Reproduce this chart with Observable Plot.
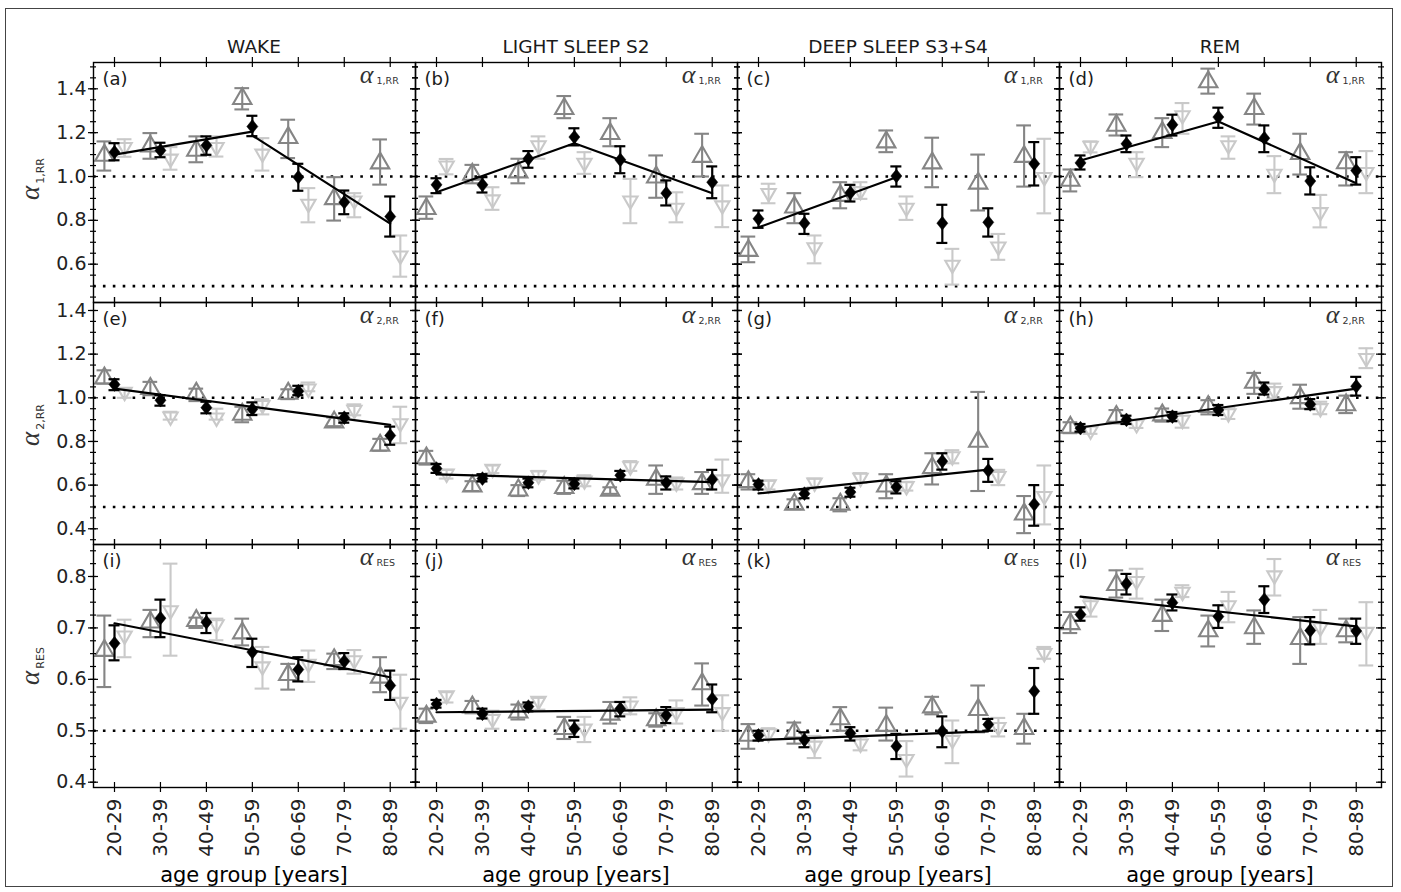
<!DOCTYPE html>
<html><head><meta charset="utf-8">
<script src="https://cdn.jsdelivr.net/npm/d3@7"></script>
<script src="https://cdn.jsdelivr.net/npm/@observablehq/plot@0.6"></script>
<style>
body{margin:0;background:#fff;}
#fig{position:relative;width:1401px;height:892px;font-family:"DejaVu Sans","Liberation Sans",Arial,sans-serif;color:#1a1a1a;overflow:hidden;}
.abs{position:absolute;}
.coltitle{font-size:18.5px;text-align:center;width:322px;line-height:22px;color:#1a1a1a;}
.xtitle{font-size:21px;text-align:center;width:322px;line-height:26px;color:#000;}
.ylab{white-space:nowrap;transform:translate(-50%,-50%) rotate(-90deg);color:#333;}
.ylab .a{font-family:"Liberation Serif","DejaVu Serif",serif;font-style:italic;font-size:27px;}
.ylab .s{font-size:11px;position:relative;top:5px;margin-left:2px;}
#outer{position:absolute;left:5px;top:8px;width:1388px;height:879px;border:1.5px solid #444;box-sizing:border-box;}
</style></head><body><div id="fig"><div id="outer"></div></div>
<script>
// ---------- categories / labels ----------
const ageGroups = ["20-29","30-39","40-49","50-59","60-69","70-79","80-89"];
const stages = ["WAKE","LIGHT SLEEP S2","DEEP SLEEP S3+S4","REM"];
const panelLetters = ["(a)","(b)","(c)","(d)","(e)","(f)","(g)","(h)","(i)","(j)","(k)","(l)"];
const rowSubs = ["1,RR","2,RR","RES"];
const yTicksRow1 = [0.6,0.8,1.0,1.2,1.4];
const yTicksRow2 = [0.4,0.6,0.8,1.0,1.2,1.4];
const yTicksRow3 = [0.4,0.5,0.6,0.7,0.8];
const refLinesRow12 = [1.0,0.5];
const refLinesRow3 = [0.5];

// ---------- values: [value, lower, upper] per age group ----------
// row 1: alpha_1,RR
const a_dia=[[1.111,1.074,1.152],[1.119,1.088,1.154],[1.142,1.099,1.183],[1.228,1.184,1.277],[0.997,0.935,1.058],[0.883,0.828,0.936],[0.817,0.726,0.909]];
const a_up =[[1.096,1.027,1.160],[1.138,1.081,1.198],[1.119,1.065,1.183],[1.355,1.306,1.403],[1.177,1.084,1.259],[0.898,0.799,0.997],[1.061,0.963,1.169]];
const a_dn =[[1.134,1.090,1.170],[1.081,1.031,1.134],[1.134,1.091,1.183],[1.104,1.027,1.175],[0.875,0.791,0.947],[0.890,0.814,0.924],[0.639,0.543,0.731]];
const b_dia=[[0.962,0.924,0.992],[0.962,0.927,0.997],[1.081,1.040,1.116],[1.180,1.142,1.220],[1.076,1.015,1.138],[0.924,0.868,0.982],[0.974,0.901,1.046]];
const b_up =[[0.853,0.807,0.909],[1.009,0.969,1.053],[1.020,0.969,1.081],[1.309,1.266,1.367],[1.195,1.138,1.266],[0.997,0.903,1.096],[1.091,1.000,1.195]];
const b_dn =[[1.050,1.010,1.080],[0.895,0.848,0.951],[1.142,1.081,1.183],[1.062,1.012,1.111],[0.890,0.787,0.989],[0.857,0.791,0.928],[0.868,0.769,0.959]];
const c_dia=[[0.807,0.766,0.845],[0.787,0.738,0.830],[0.926,0.886,0.962],[1.002,0.954,1.046],[0.787,0.697,0.871],[0.791,0.726,0.855],[1.058,0.959,1.157]];
const c_up =[[0.662,0.609,0.726],[0.860,0.787,0.924],[0.913,0.855,0.974],[1.157,1.111,1.210],[1.061,0.951,1.177],[0.969,0.845,1.100],[1.091,0.954,1.233]];
const c_dn =[[0.924,0.878,0.967],[0.677,0.604,0.731],[0.933,0.898,0.974],[0.857,0.802,0.909],[0.597,0.507,0.670],[0.680,0.620,0.738],[0.997,0.832,1.172]];
const d_dia=[[1.062,1.032,1.096],[1.149,1.111,1.187],[1.236,1.187,1.282],[1.271,1.222,1.314],[1.175,1.111,1.233],[0.979,0.918,1.042],[1.027,0.963,1.088]];
const d_up =[[0.982,0.932,1.032],[1.233,1.187,1.283],[1.200,1.134,1.266],[1.431,1.378,1.492],[1.309,1.237,1.378],[1.104,1.009,1.195],[1.062,0.959,1.111]];
const d_dn =[[1.140,1.110,1.160],[1.062,0.997,1.111],[1.279,1.195,1.335],[1.142,1.081,1.183],[1.012,0.924,1.093],[0.837,0.768,0.916],[1.020,0.924,1.116]];
// row 2: alpha_2,RR
const e_dia=[[1.061,1.035,1.085],[0.989,0.964,1.012],[0.955,0.929,0.982],[0.948,0.921,0.979],[1.030,1.012,1.055],[0.909,0.886,0.929],[0.827,0.785,0.868]];
const e_up =[[1.090,1.065,1.126],[1.042,1.012,1.073],[1.020,0.985,1.042],[0.924,0.888,0.959],[1.020,0.994,1.039],[0.888,0.870,0.910],[0.782,0.758,0.812]];
const e_dn =[[1.027,1.000,1.040],[0.914,0.900,0.936],[0.909,0.900,0.950],[0.967,0.924,0.994],[1.042,1.030,1.070],[0.944,0.920,0.970],[0.883,0.792,0.959]];
const f_dia=[[0.676,0.656,0.697],[0.630,0.617,0.650],[0.611,0.590,0.630],[0.606,0.585,0.625],[0.645,0.625,0.665],[0.611,0.580,0.640],[0.626,0.580,0.670]];
const f_up =[[0.724,0.694,0.757],[0.595,0.573,0.618],[0.577,0.550,0.600],[0.588,0.560,0.620],[0.576,0.560,0.590],[0.626,0.560,0.690],[0.606,0.560,0.660]];
const f_dn =[[0.652,0.630,0.670],[0.674,0.655,0.690],[0.644,0.625,0.665],[0.621,0.595,0.645],[0.686,0.665,0.710],[0.611,0.580,0.635],[0.626,0.565,0.717]];
const g_dia=[[0.603,0.580,0.620],[0.561,0.540,0.580],[0.568,0.547,0.588],[0.591,0.562,0.618],[0.709,0.671,0.746],[0.667,0.615,0.720],[0.512,0.414,0.600]];
const g_up =[[0.615,0.580,0.650],[0.512,0.490,0.535],[0.512,0.480,0.540],[0.595,0.540,0.650],[0.679,0.603,0.746],[0.800,0.573,1.027],[0.467,0.380,0.550]];
const g_dn =[[0.603,0.580,0.620],[0.611,0.590,0.630],[0.633,0.610,0.655],[0.595,0.575,0.615],[0.732,0.700,0.760],[0.641,0.600,0.670],[0.550,0.420,0.690]];
const h_dia=[[0.861,0.845,0.880],[0.899,0.880,0.918],[0.914,0.893,0.935],[0.944,0.921,0.967],[1.039,1.015,1.070],[0.970,0.948,0.994],[1.053,1.010,1.096]];
const h_up =[[0.864,0.838,0.888],[0.914,0.883,0.944],[0.921,0.891,0.951],[0.959,0.924,0.989],[1.070,1.018,1.114],[1.000,0.950,1.060],[0.967,0.930,1.010]];
const h_dn =[[0.850,0.835,0.870],[0.879,0.862,0.900],[0.899,0.863,0.933],[0.929,0.903,0.955],[1.030,0.997,1.065],[0.952,0.925,0.982],[1.182,1.136,1.227]];
// row 3: alpha_RES
const i_dia=[[0.670,0.637,0.705],[0.719,0.682,0.755],[0.711,0.690,0.729],[0.653,0.624,0.679],[0.619,0.596,0.643],[0.635,0.620,0.651],[0.588,0.560,0.617]];
const i_up =[[0.656,0.585,0.724],[0.711,0.682,0.735],[0.714,0.700,0.720],[0.690,0.666,0.718],[0.609,0.580,0.630],[0.638,0.620,0.650],[0.604,0.575,0.643]];
const i_dn =[[0.685,0.643,0.716],[0.734,0.646,0.825],[0.707,0.676,0.718],[0.625,0.582,0.663],[0.630,0.595,0.656],[0.637,0.611,0.657],[0.556,0.504,0.609]];
const j_dia=[[0.552,0.545,0.560],[0.533,0.524,0.543],[0.547,0.538,0.555],[0.504,0.488,0.520],[0.543,0.528,0.556],[0.530,0.515,0.546],[0.562,0.536,0.590]];
const j_up =[[0.528,0.515,0.543],[0.546,0.534,0.558],[0.536,0.522,0.551],[0.504,0.484,0.527],[0.532,0.514,0.556],[0.521,0.508,0.534],[0.591,0.549,0.631]];
const j_dn =[[0.569,0.555,0.575],[0.523,0.504,0.539],[0.558,0.541,0.564],[0.504,0.478,0.527],[0.549,0.532,0.565],[0.536,0.514,0.559],[0.536,0.500,0.569]];
const k_dia=[[0.491,0.481,0.500],[0.482,0.468,0.497],[0.495,0.481,0.507],[0.470,0.445,0.494],[0.499,0.468,0.528],[0.512,0.500,0.523],[0.577,0.533,0.622]];
const k_up =[[0.491,0.465,0.513],[0.497,0.475,0.516],[0.523,0.500,0.546],[0.510,0.481,0.545],[0.546,0.532,0.566],[0.541,0.497,0.588],[0.504,0.475,0.533]];
const k_dn =[[0.495,0.484,0.505],[0.471,0.447,0.490],[0.475,0.462,0.488],[0.445,0.411,0.480],[0.482,0.437,0.520],[0.507,0.489,0.525],[0.651,0.640,0.663]];
const l_dia=[[0.726,0.714,0.740],[0.786,0.765,0.805],[0.749,0.734,0.765],[0.722,0.700,0.744],[0.755,0.729,0.781],[0.695,0.668,0.721],[0.694,0.669,0.718]];
const l_up =[[0.708,0.690,0.731],[0.784,0.759,0.812],[0.724,0.694,0.755],[0.694,0.664,0.724],[0.700,0.669,0.734],[0.679,0.630,0.721],[0.694,0.672,0.718]];
const l_dn =[[0.744,0.722,0.757],[0.791,0.757,0.815],[0.770,0.760,0.783],[0.744,0.711,0.770],[0.802,0.763,0.834],[0.701,0.669,0.735],[0.692,0.627,0.750]];

// ---------- fit lines: segments of [age-group index, value] ----------
const a_fit=[[[0,1.100],[3,1.205]],[[3,1.187],[6,0.785]]];
const b_fit=[[[0,0.928],[3,1.152]],[[3,1.152],[6,0.924]]];
const c_fit=[[[0,0.768],[3,0.997]]];
const d_fit=[[[0,1.073],[3,1.251]],[[3,1.251],[6,0.969]]];
const e_fit=[[[0,1.042],[6,0.876]]];
const f_fit=[[[0,0.649],[6,0.614]]];
const g_fit=[[[0,0.562],[5,0.671]]];
const h_fit=[[[0,0.864],[6,1.042]]];
const i_fit=[[[0,0.709],[6,0.604]]];
const j_fit=[[[0,0.536],[6,0.541]]];
const k_fit=[[[0,0.482],[5,0.499]]];
const l_fit=[[[0,0.761],[6,0.703]]];

const diaSeries=[a_dia,b_dia,c_dia,d_dia,e_dia,f_dia,g_dia,h_dia,i_dia,j_dia,k_dia,l_dia];
const upSeries=[a_up,b_up,c_up,d_up,e_up,f_up,g_up,h_up,i_up,j_up,k_up,l_up];
const dnSeries=[a_dn,b_dn,c_dn,d_dn,e_dn,f_dn,g_dn,h_dn,i_dn,j_dn,k_dn,l_dn];
const fitSeries=[a_fit,b_fit,c_fit,d_fit,e_fit,f_fit,g_fit,h_fit,i_fit,j_fit,k_fit,l_fit];

// ---------- layout / style ----------
const colLeft=[93,415,737,1059], colW=322;
const rowTop=[62,302,544], rowH=[240,242,243];
const yDomains=[[0.4253,1.52],[0.328,1.4366],[0.3897,0.8622]];
const yMajor=[yTicksRow1,yTicksRow2,yTicksRow3];
const yMinorStep=[0.05,0.05,0.025];
const refLines=[refLinesRow12,refLinesRow12,refLinesRow3];
const xDomain=[-0.457,6.55];
const cUp="#858585", cDn="#c9c9c9", cDia="#000";
const sansFont="DejaVu Sans, Liberation Sans, Arial, sans-serif";

const diamondSym={draw(ctx,size){const h=Math.sqrt(size/Math.PI)*1.5,w=h*0.8;ctx.moveTo(0,-h);ctx.lineTo(w,0);ctx.lineTo(0,h);ctx.lineTo(-w,0);ctx.closePath();}};
const downTri={draw(ctx,size){const s=Math.sqrt(size)*0.6824,t=s/2,u=s*Math.sqrt(3)/2;ctx.moveTo(0,s);ctx.lineTo(u,-t);ctx.lineTo(-u,-t);ctx.closePath();}};

const fig=document.getElementById("fig");

function errMarks(rows, color, capHalf, sw){
  return [
    Plot.ruleX(rows,{x:"x",y1:"lo",y2:"hi",stroke:color,strokeWidth:sw}),
    Plot.ruleY(rows,{y:"lo",x1:d=>d.x-capHalf,x2:d=>d.x+capHalf,stroke:color,strokeWidth:sw}),
    Plot.ruleY(rows,{y:"hi",x1:d=>d.x-capHalf,x2:d=>d.x+capHalf,stroke:color,strokeWidth:sw})
  ];
}

for(let r=0;r<3;r++){
  for(let c=0;c<4;c++){
    const p=r*4+c;
    const mL=c===0?75:12, mR=12, mT=12, mB=r===2?80:12;
    const W=colW, H=rowH[r];
    const toRows=(arr,off)=>arr.map(([v,lo,hi],i)=>({x:i+off,v,lo,hi}));
    const up=toRows(upSeries[p],-0.22), dn=toRows(dnSeries[p],0.22), dia=toRows(diaSeries[p],0);
    const [y0,y1]=yDomains[r];
    const st=yMinorStep[r];
    const minor=d3.range(Math.ceil(y0/st-1e-9),Math.floor(y1/st+1e-9)+1).map(k=>+(k*st).toFixed(4));
    const major=d3.range(Math.ceil(y0/0.1-1e-9),Math.floor(y1/0.1+1e-9)+1).map(k=>+(k*0.1).toFixed(3)).filter(v=>r===2||Math.round(v*10)%2===0);
    const xt=d3.range(ageGroups.length);
    const marks=[
      Plot.ruleY(refLines[r],{stroke:"#000",strokeWidth:2.6,strokeDasharray:"2.6,7.3"}),
      ...errMarks(up,cUp,0.16,2.1),
      Plot.dot(up,{x:"x",y:"v",symbol:"triangle",r:6.8,stroke:cUp,strokeWidth:2.1,fill:"none"}),
      ...errMarks(dn,cDn,0.16,2.1),
      Plot.dot(dn,{x:"x",y:"v",symbol:downTri,r:6.8,stroke:cDn,strokeWidth:2.1,fill:"none"}),
      ...fitSeries[p].map(seg=>Plot.line(seg,{x:d=>d[0],y:d=>d[1],stroke:"#000",strokeWidth:2.2})),
      ...errMarks(dia,cDia,0.12,2.2),
      Plot.dot(dia,{x:"x",y:"v",symbol:diamondSym,r:4.6,fill:cDia,stroke:cDia,strokeWidth:0.5}),
      Plot.frame({stroke:"#000",strokeWidth:1.4}),
      Plot.ruleY(major,{insetLeft:-5,insetRight:W-5,stroke:"#000",strokeWidth:1.2}),
      Plot.ruleY(major,{insetLeft:W-5,insetRight:-5,stroke:"#000",strokeWidth:1.2}),
      Plot.ruleY(minor,{insetLeft:-3,insetRight:W-3,stroke:"#000",strokeWidth:1.2}),
      Plot.ruleY(minor,{insetLeft:W-3,insetRight:-3,stroke:"#000",strokeWidth:1.2}),
      Plot.ruleX(xt,{insetTop:-5,insetBottom:H-5,stroke:"#000",strokeWidth:1.2}),
      Plot.ruleX(xt,{insetTop:H-5,insetBottom:-5,stroke:"#000",strokeWidth:1.2}),
      Plot.text([panelLetters[p]],{frameAnchor:"top-left",dx:9,dy:10,lineAnchor:"top",textAnchor:"start",fontSize:18,fill:"#1a1a1a"}),
      Plot.text(["α"],{frameAnchor:"top-right",dx:-42,dy:20,lineAnchor:"bottom",textAnchor:"end",fontSize:26,fontStyle:"italic",fontFamily:"Liberation Serif, DejaVu Serif, serif",fill:"#333"}),
      Plot.text([rowSubs[r]],{frameAnchor:"top-right",dx:-39,dy:21,lineAnchor:"bottom",textAnchor:"start",fontSize:9.5,fill:"#333"})
    ];
    if(c===0) marks.push(Plot.axisY({ticks:yMajor[r],tickSize:0,tickPadding:7,tickFormat:d3.format(".1f"),label:null,fontSize:19}));
    if(r===2) marks.push(Plot.axisX({ticks:xt,tickSize:0,tickPadding:11,tickRotate:-90,tickFormat:i=>ageGroups[i],label:null,fontSize:20}));
    const svg=Plot.plot({
      width:W+mL+mR, height:H+mT+mB,
      marginLeft:mL, marginRight:mR, marginTop:mT, marginBottom:mB,
      x:{type:"linear",domain:xDomain,axis:null},
      y:{type:"linear",domain:yDomains[r],axis:null},
      style:{background:"transparent",overflow:"visible",fontFamily:sansFont,color:"#222",maxWidth:"none"},
      marks
    });
    const div=document.createElement("div");
    div.className="abs";
    div.style.left=(colLeft[c]-mL)+"px";
    div.style.top=(rowTop[r]-mT)+"px";
    div.style.width=(W+mL+mR)+"px";
    div.appendChild(svg);
    fig.appendChild(div);
  }
}

// column titles and x-axis titles
stages.forEach((s,c)=>{
  const t=document.createElement("div");
  t.className="abs coltitle"; t.textContent=s;
  t.style.left=colLeft[c]+"px"; t.style.top="36px";
  fig.appendChild(t);
  const x=document.createElement("div");
  x.className="abs xtitle"; x.textContent="age group [years]";
  x.style.left=colLeft[c]+"px"; x.style.top="862px";
  fig.appendChild(x);
});
// y-axis labels
const rowCenters=[179,425,666];
rowSubs.forEach((s,r)=>{
  const d=document.createElement("div");
  d.className="abs ylab";
  d.style.left="30px"; d.style.top=rowCenters[r]+"px";
  d.innerHTML='<span class="a">α</span><span class="s">'+s+'</span>';
  fig.appendChild(d);
});
</script></body></html>
